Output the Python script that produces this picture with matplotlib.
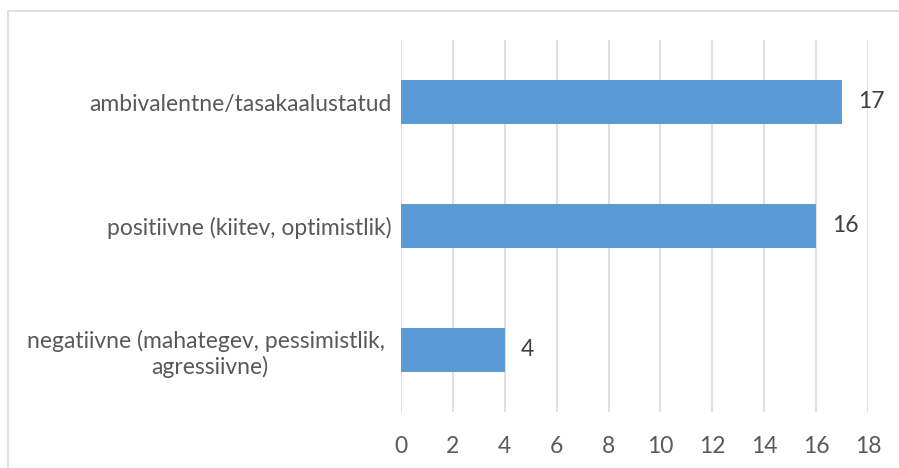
import matplotlib
matplotlib.use("Agg")
import matplotlib.pyplot as plt
from matplotlib.patches import Rectangle

categories = ["negatiivne (mahategev, pessimistlik, \nagressiivne)",
              "positiivne (kiitev, optimistlik)",
              "ambivalentne/tasakaalustatud"]
values = [4, 16, 17]
xticks = [0, 2, 4, 6, 8, 10, 12, 14, 16, 18]

plt.rcParams['font.family'] = ['Lato', 'DejaVu Sans']
txt = '#595959'
fs = 16.5
fig = plt.figure(figsize=(8.99, 4.68), dpi=100)
fig.patches.append(Rectangle((8/899, -0.1), 1.2, 1 - 11/468 + 0.1, transform=fig.transFigure,
                             fill=False, edgecolor='#d9d9d9', linewidth=1.2, zorder=0))
ax = fig.add_axes([401/899, 1 - 412/468, 467/899, 372/468])
y = list(range(len(categories)))
bars = ax.barh(y, values, height=0.355, color='#5b9bd5', zorder=3)
for yi, v in zip(y, values):
    ax.text(v + 0.62, yi, str(v), va='center', ha='left', fontsize=fs, color='#404040')
ax.set_xlim(0, 18)
ax.set_ylim(-0.5, 2.5)
ax.set_xticks(xticks)
ax.set_xticklabels([str(t) for t in xticks], fontsize=fs, color=txt)
ax.set_yticks(y)
ax.set_yticklabels(categories, fontsize=fs, color=txt, multialignment='center')
ax.tick_params(axis='both', length=0)
ax.tick_params(axis='x', pad=17)
ax.tick_params(axis='y', pad=7)
ax.grid(axis='x', color='#d9d9d9', linewidth=1.2, zorder=0)
for s in ax.spines.values():
    s.set_visible(False)
fig.savefig("out.png", dpi=100)
